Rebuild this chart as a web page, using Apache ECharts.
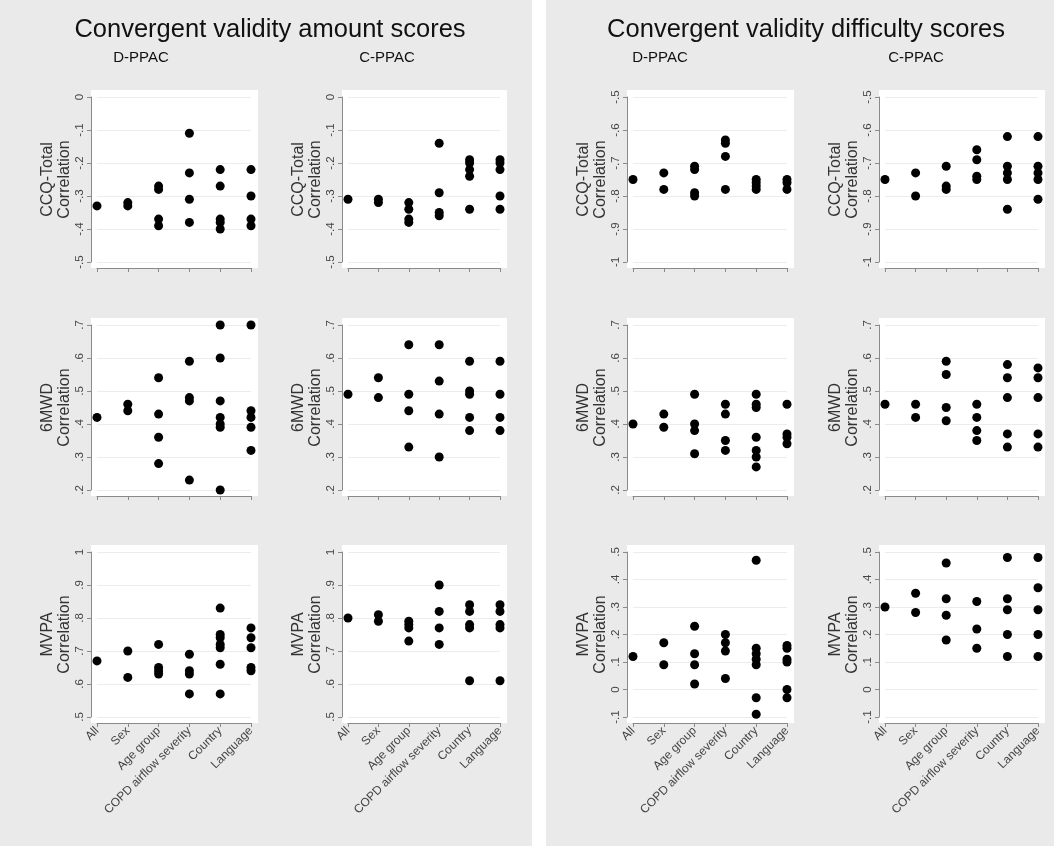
<!DOCTYPE html>
<html><head><meta charset="utf-8">
<script src="https://cdn.jsdelivr.net/npm/echarts@6/dist/echarts.min.js"></script>
<style>html,body{margin:0;padding:0;background:#fff}#c{width:1054px;height:846px}</style>
</head><body><div id="c"></div>
<script>
// ---------- data ----------
const categories = ['All', 'Sex', 'Age group', 'COPD airflow severity', 'Country', 'Language'];
const sectionTitles = ['Convergent validity amount scores', 'Convergent validity difficulty scores'];
const instrumentTitles = ['D-PPAC', 'C-PPAC', 'D-PPAC', 'C-PPAC'];
const outcomeNames = ['CCQ-Total\nCorrelation', '6MWD\nCorrelation', 'MVPA\nCorrelation'];

// Row 1: CCQ-Total
const amountDppacCCQ = [[-0.33], [-0.32, -0.33], [-0.27, -0.28, -0.37, -0.39], [-0.11, -0.23, -0.31, -0.38], [-0.22, -0.27, -0.37, -0.38, -0.40], [-0.22, -0.30, -0.37, -0.39]];
const amountCppacCCQ = [[-0.31], [-0.31, -0.32], [-0.32, -0.34, -0.37, -0.38], [-0.14, -0.29, -0.35, -0.36], [-0.19, -0.20, -0.22, -0.24, -0.34], [-0.19, -0.20, -0.22, -0.30, -0.34]];
const difficultyDppacCCQ = [[-0.75], [-0.73, -0.78], [-0.71, -0.72, -0.79, -0.80], [-0.63, -0.64, -0.68, -0.78], [-0.75, -0.76, -0.77, -0.78], [-0.75, -0.76, -0.78]];
const difficultyCppacCCQ = [[-0.75], [-0.73, -0.80], [-0.71, -0.77, -0.78], [-0.66, -0.69, -0.74, -0.75], [-0.62, -0.71, -0.73, -0.75, -0.84], [-0.62, -0.71, -0.73, -0.75, -0.81]];
// Row 2: 6MWD
const amountDppac6MWD = [[0.42], [0.46, 0.44], [0.54, 0.43, 0.36, 0.28], [0.59, 0.48, 0.47, 0.23], [0.70, 0.60, 0.47, 0.42, 0.40, 0.39, 0.20], [0.70, 0.44, 0.42, 0.39, 0.32]];
const amountCppac6MWD = [[0.49], [0.54, 0.48], [0.64, 0.49, 0.44, 0.33], [0.64, 0.53, 0.43, 0.30], [0.59, 0.50, 0.49, 0.42, 0.38], [0.59, 0.49, 0.42, 0.38]];
const difficultyDppac6MWD = [[0.40], [0.43, 0.39], [0.49, 0.40, 0.38, 0.31], [0.46, 0.43, 0.35, 0.32], [0.49, 0.46, 0.45, 0.36, 0.32, 0.30, 0.27], [0.46, 0.37, 0.36, 0.34]];
const difficultyCppac6MWD = [[0.46], [0.46, 0.42], [0.59, 0.55, 0.45, 0.41], [0.46, 0.42, 0.38, 0.35], [0.58, 0.54, 0.48, 0.37, 0.33], [0.57, 0.54, 0.48, 0.37, 0.33]];
// Row 3: MVPA
const amountDppacMVPA = [[0.67], [0.70, 0.62], [0.72, 0.65, 0.64, 0.63], [0.69, 0.64, 0.63, 0.57], [0.83, 0.75, 0.74, 0.72, 0.71, 0.66, 0.57], [0.77, 0.74, 0.71, 0.65, 0.64]];
const amountCppacMVPA = [[0.80], [0.81, 0.79], [0.79, 0.78, 0.77, 0.73], [0.90, 0.82, 0.77, 0.72], [0.84, 0.82, 0.78, 0.77, 0.61], [0.84, 0.82, 0.78, 0.77, 0.61]];
const difficultyDppacMVPA = [[0.12], [0.17, 0.09], [0.23, 0.13, 0.09, 0.02], [0.20, 0.17, 0.14, 0.04], [0.47, 0.15, 0.13, 0.11, 0.09, -0.03, -0.09], [0.16, 0.15, 0.11, 0.10, 0.00, -0.03]];
const difficultyCppacMVPA = [[0.30], [0.35, 0.28], [0.46, 0.33, 0.27, 0.18], [0.32, 0.22, 0.15], [0.48, 0.33, 0.29, 0.20, 0.12], [0.48, 0.37, 0.29, 0.20, 0.12]];

// y-axis ranges [min, max] per row, for amount and difficulty
const amountRanges = [[-0.5, 0], [0.2, 0.7], [0.5, 1]];
const difficultyRanges = [[-1, -0.5], [0.2, 0.7], [-0.1, 0.5]];

const panelData = [
  [amountDppacCCQ, amountCppacCCQ, difficultyDppacCCQ, difficultyCppacCCQ],
  [amountDppac6MWD, amountCppac6MWD, difficultyDppac6MWD, difficultyCppac6MWD],
  [amountDppacMVPA, amountCppacMVPA, difficultyDppacMVPA, difficultyCppacMVPA]
];

// ---------- layout ----------
const colTick = [[97, 251], [348, 500], [633, 787], [885, 1038]];
const rowTick = [[97, 262], [325, 490], [552, 717]];
const AX_OFF = 6;
const FONT = 'Liberation Sans, Arial, sans-serif';
const axisColor = '#8a8a8a';

function stata(v) {
  const r = Math.round(v * 10) / 10;
  if (Math.abs(r) < 1e-9) return '0';
  if (Number.isInteger(r)) return String(r);
  return r.toFixed(1).replace(/^(-?)0\./, '$1.');
}

const grids = [], xAxes = [], yAxes = [], series = [];
const graphics = [
  { type: 'rect', z: -20, shape: { x: 0, y: 0, width: 532, height: 846 }, style: { fill: '#eaeaea' } },
  { type: 'rect', z: -20, shape: { x: 546, y: 0, width: 508, height: 846 }, style: { fill: '#eaeaea' } }
];

let idx = 0;
for (let r = 0; r < 3; r++) {
  for (let c = 0; c < 4; c++) {
    const [x0, x1] = colTick[c];
    const [y0, y1] = rowTick[r];
    const range = c < 2 ? amountRanges[r] : difficultyRanges[r];
    grids.push({ left: x0, top: y0, width: x1 - x0, height: y1 - y0 });
    graphics.push({ type: 'rect', z: -10, shape: { x: x0 - AX_OFF, y: y0 - 7, width: (x1 - x0) + AX_OFF + 7, height: (y1 - y0) + 7 + AX_OFF }, style: { fill: '#ffffff' } });
    xAxes.push({
      type: 'category', gridIndex: idx, data: categories, boundaryGap: false, offset: AX_OFF, position: 'bottom',
      axisLine: { show: true, onZero: false, lineStyle: { color: axisColor, width: 1 } },
      axisTick: { show: true, length: 4, alignWithLabel: true, interval: 0, lineStyle: { color: axisColor } },
      axisLabel: { show: r === 2, rotate: 45, interval: 0, margin: 6, fontSize: 12, color: '#444', fontFamily: FONT },
      splitLine: { show: false }
    });
    yAxes.push({
      type: 'value', gridIndex: idx, min: range[0], max: range[1], interval: 0.1, offset: AX_OFF, position: 'left',
      axisLine: { show: true, onZero: false, lineStyle: { color: axisColor, width: 1 } },
      axisTick: { show: true, length: 4, lineStyle: { color: axisColor } },
      axisLabel: { rotate: 90, margin: 5, fontSize: 11.5, color: '#444', fontFamily: FONT, formatter: stata },
      splitLine: { show: true, lineStyle: { color: '#ececec', width: 1 } },
      name: outcomeNames[r], nameLocation: 'middle', nameRotate: 90, nameGap: 14,
      nameTextStyle: { fontSize: 16, lineHeight: 17, color: '#333', fontFamily: FONT }
    });
    const pts = [];
    panelData[r][c].forEach((vals, ci) => vals.forEach(v => pts.push([ci, v])));
    series.push({
      type: 'scatter', xAxisIndex: idx, yAxisIndex: idx, data: pts,
      symbol: 'circle', symbolSize: 9, itemStyle: { color: '#000', opacity: 1 }, silent: true
    });
    idx++;
  }
}

// titles
const sectionCenters = [270, 806];
sectionTitles.forEach((t, i) => graphics.push({ type: 'text', z: 5, x: sectionCenters[i], y: 30, style: { text: t, fontSize: 25.5, fontFamily: FONT, fill: '#111', align: 'center', verticalAlign: 'middle' } }));
const instCenters = [141, 387, 660, 916];
instrumentTitles.forEach((t, i) => graphics.push({ type: 'text', z: 5, x: instCenters[i], y: 58, style: { text: t, fontSize: 15, fontFamily: FONT, fill: '#111', align: 'center', verticalAlign: 'middle' } }));

const chart = echarts.init(document.getElementById('c'), null, { renderer: 'canvas' });
chart.setOption({
  backgroundColor: '#ffffff',
  animation: false,
  grid: grids, xAxis: xAxes, yAxis: yAxes, series: series,
  graphic: { elements: graphics }
});
</script>
</body></html>
